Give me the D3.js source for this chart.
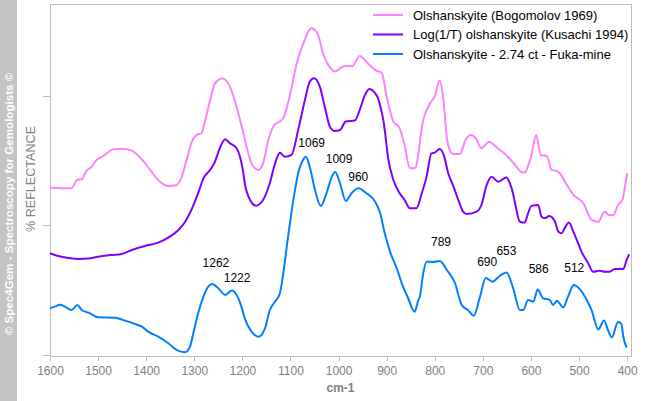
<!DOCTYPE html>
<html><head><meta charset="utf-8">
<script src="https://cdn.jsdelivr.net/npm/d3@7"></script>
<style>
html,body{margin:0;padding:0;background:#fff;}
svg{display:block;font-family:Arial,"Liberation Sans",sans-serif;}
</style></head>
<body>
<svg id="chart" width="646" height="401"></svg>
<script>
// ---- data (wavenumber cm-1, relative reflectance) ----
const xTicks = [1600,1500,1400,1300,1200,1100,1000,900,800,700,600,500,400];
const yTicks = [0,1,2];
const seriesNames = ["Olshanskyite (Bogomolov 1969)","Log(1/T) olshanskyite (Kusachi 1994)","Olshanskyite - 2.74 ct - Fuka-mine"];
const seriesColors = ["#ff80ff","#8000ff","#0080ff"];

const bogomolovWn = [1600,1555,1544,1534,1524,1513,1503,1489,1468,1448,1430,1416,1402,1389,1375,1354,1337,1326,1316,1305,1295,1285,1278,1267,1257,1241,1226,1212,1198,1181,1167,1157,1146,1136,1115,1101,1087,1073,1057,1044,1032,1018,1008,989,971,956,939,924,910,900,886,874,862,852,841,824,808,800,790,782,775,769,762,748,741,737,725,714,703,687,671,651,633,620,613,604,599,589,580,567,557,546,540,526,512,491,474,460,450,446,439,429,419,410,405,400];
const bogomolovVal = [1.292,1.287,1.351,1.357,1.423,1.454,1.506,1.537,1.588,1.593,1.578,1.537,1.480,1.415,1.351,1.305,1.313,1.377,1.506,1.647,1.699,1.712,1.801,1.969,2.098,2.134,2.072,1.917,1.712,1.480,1.429,1.480,1.660,1.763,1.828,2.008,2.253,2.407,2.523,2.484,2.324,2.220,2.188,2.229,2.232,2.309,2.251,2.201,2.175,1.995,1.802,1.757,1.609,1.442,1.444,1.815,1.954,1.995,2.120,1.969,1.676,1.583,1.552,1.552,1.608,1.653,1.699,1.668,1.596,1.647,1.602,1.541,1.467,1.413,1.408,1.483,1.544,1.699,1.544,1.537,1.429,1.421,1.403,1.317,1.239,1.171,1.042,1.029,1.094,1.107,1.081,1.081,1.158,1.197,1.287,1.403];

const kusachiWn = [1600,1583,1562,1541,1520,1500,1472,1451,1430,1402,1375,1351,1333,1319,1306,1292,1281,1267,1257,1247,1236,1226,1212,1205,1199,1195,1184,1172,1157,1143,1132,1122,1112,1098,1084,1070,1060,1051,1039,1028,1018,1008,997,985,966,956,945,936,924,918,914,907,904,897,886,873,862,852,838,827,817,807,800,790,781,772,762,751,741,734,713,703,692,682,668,651,644,637,633,623,613,606,599,585,578,571,562,550,543,536,530,521,512,502,495,481,471,457,446,436,426,408,401,396];
const kusachiVal = [0.785,0.764,0.749,0.741,0.744,0.759,0.772,0.780,0.811,0.842,0.867,0.914,0.965,1.029,1.120,1.249,1.364,1.429,1.493,1.596,1.666,1.635,1.596,1.531,1.429,1.326,1.197,1.153,1.197,1.326,1.480,1.562,1.531,1.544,1.737,1.969,2.110,2.137,2.072,1.905,1.763,1.730,1.737,1.802,1.811,1.892,2.008,2.054,2.021,1.982,1.931,1.815,1.737,1.521,1.351,1.249,1.193,1.133,1.133,1.249,1.377,1.556,1.562,1.591,1.541,1.403,1.309,1.197,1.107,1.089,1.107,1.158,1.313,1.377,1.338,1.371,1.326,1.243,1.171,1.029,1.022,1.094,1.151,1.158,1.068,1.056,1.073,1.029,0.952,0.940,0.978,1.022,0.952,0.863,0.798,0.708,0.643,0.651,0.643,0.643,0.664,0.664,0.734,0.778];

const fukaWn = [1600,1590,1579,1569,1555,1543,1534,1520,1500,1465,1444,1423,1409,1396,1375,1354,1337,1319,1309,1302,1292,1281,1271,1263,1250,1236,1222,1212,1202,1195,1181,1167,1153,1143,1132,1122,1115,1105,1094,1084,1074,1068,1060,1049,1037,1025,1014,1007,997,985,973,959,942,924,914,904,893,879,866,856,842,834,831,824,817,803,789,775,758,744,731,719,706,694,680,665,651,637,623,616,606,595,586,575,561,554,546,533,523,511,498,484,474,460,448,440,432,419,412,408,401];
const fukaVal = [0.361,0.373,0.388,0.373,0.347,0.386,0.347,0.327,0.291,0.288,0.265,0.239,0.219,0.180,0.141,0.090,0.039,0.021,0.064,0.168,0.322,0.450,0.527,0.548,0.515,0.463,0.497,0.463,0.373,0.283,0.180,0.141,0.206,0.347,0.412,0.476,0.631,0.914,1.197,1.403,1.506,1.531,1.454,1.274,1.151,1.249,1.377,1.413,1.326,1.189,1.249,1.287,1.249,1.184,1.100,0.940,0.798,0.668,0.527,0.444,0.334,0.425,0.450,0.631,0.720,0.718,0.726,0.656,0.554,0.386,0.347,0.303,0.450,0.595,0.566,0.610,0.637,0.515,0.347,0.347,0.425,0.412,0.506,0.438,0.425,0.386,0.419,0.367,0.450,0.541,0.507,0.425,0.347,0.197,0.266,0.193,0.135,0.255,0.239,0.141,0.058];

const peakLabels = ["1262","1222","1069","1009","960","789","690","653","586","512"];
const peakLabelWn = [1255,1211,1056,999,959,787,691,651,584,510];
const peakLabelVal = [0.682,0.561,1.608,1.485,1.346,0.842,0.690,0.772,0.631,0.643];

// ---- layout ----
const svg = d3.select("#chart");
const W = 646, H = 401;
const mLeft = 50, mRight = 631, mTop = 4, mBottom = 356;

const x = d3.scaleLinear().domain([1600, 392]).range([mLeft, mRight]);
const y = d3.scaleLinear().domain([-0.008, 2.71]).range([mBottom, mTop]);

// side band
svg.append("rect").attr("x",0).attr("y",0).attr("width",17).attr("height",H).attr("fill","#c3c3c3");
svg.append("text")
  .attr("transform","translate(13,204) rotate(-90)")
  .attr("text-anchor","middle")
  .attr("fill","#ffffff")
  .attr("font-size","11.6px")
  .attr("font-weight","bold")
  .text("\u00a9 Spec4Gem - Spectroscopy for Gemologists \u00a9");

// frame
svg.append("rect").attr("x",mLeft).attr("y",mTop).attr("width",mRight-mLeft).attr("height",mBottom-mTop)
  .attr("fill","none").attr("stroke","#bdbdbd").attr("stroke-width",1).attr("shape-rendering","crispEdges");

// x axis
const gx = svg.append("g").attr("transform",`translate(0,${mBottom})`)
  .call(d3.axisBottom(x).tickValues(xTicks).tickSize(5).tickPadding(5).tickFormat(d3.format("d")));
gx.select(".domain").remove();
gx.selectAll("line").attr("stroke","#bdbdbd").attr("shape-rendering","crispEdges");
gx.selectAll("text").attr("fill","#808080").attr("font-size","12px").attr("font-family","Arial,'Liberation Sans',sans-serif");

// y axis (no labels)
const gy = svg.append("g").attr("transform",`translate(${mLeft},0)`)
  .call(d3.axisLeft(y).tickValues(yTicks).tickSize(7).tickFormat(""));
gy.select(".domain").remove();
gy.selectAll("line").attr("stroke","#bdbdbd").attr("shape-rendering","crispEdges");

// axis titles
svg.append("text").attr("x",(mLeft+mRight)/2).attr("y",392).attr("text-anchor","middle")
  .attr("fill","#808080").attr("font-size","12px").attr("font-weight","bold").text("cm-1");
svg.append("text").attr("transform",`translate(34.5,179) rotate(-90)`).attr("text-anchor","middle")
  .attr("fill","#808080").attr("font-size","12.6px").text("% REFLECTANCE");

// series
const series = [
  {wn: bogomolovWn, val: bogomolovVal},
  {wn: kusachiWn, val: kusachiVal},
  {wn: fukaWn, val: fukaVal}
];
const line = d3.line().x(d => x(d[0])).y(d => y(d[1])).curve(d3.curveMonotoneX);
const plot = svg.append("g");
series.forEach((s, i) => {
  const pts = s.wn.map((w, j) => [w, s.val[j]]);
  plot.append("path").datum(pts).attr("d", line)
    .attr("fill","none").attr("stroke", seriesColors[i]).attr("stroke-width",2).attr("stroke-linejoin","round");
});

// peak labels
svg.append("g").selectAll("text").data(peakLabels).join("text")
  .attr("x",(d,i)=>x(peakLabelWn[i])).attr("y",(d,i)=>y(peakLabelVal[i]))
  .attr("text-anchor","middle").attr("font-size","12px").attr("fill","#000").text(d=>d);

// legend
const lg = svg.append("g");
seriesNames.forEach((n, i) => {
  const ly = 15 + i*19.5;
  lg.append("line").attr("x1",373).attr("x2",403).attr("y1",ly).attr("y2",ly)
    .attr("stroke",seriesColors[i]).attr("stroke-width",2);
  lg.append("text").attr("x",413).attr("y",ly+4.5).attr("font-size","13px").attr("fill","#000").text(n);
});
</script>
</body></html>
